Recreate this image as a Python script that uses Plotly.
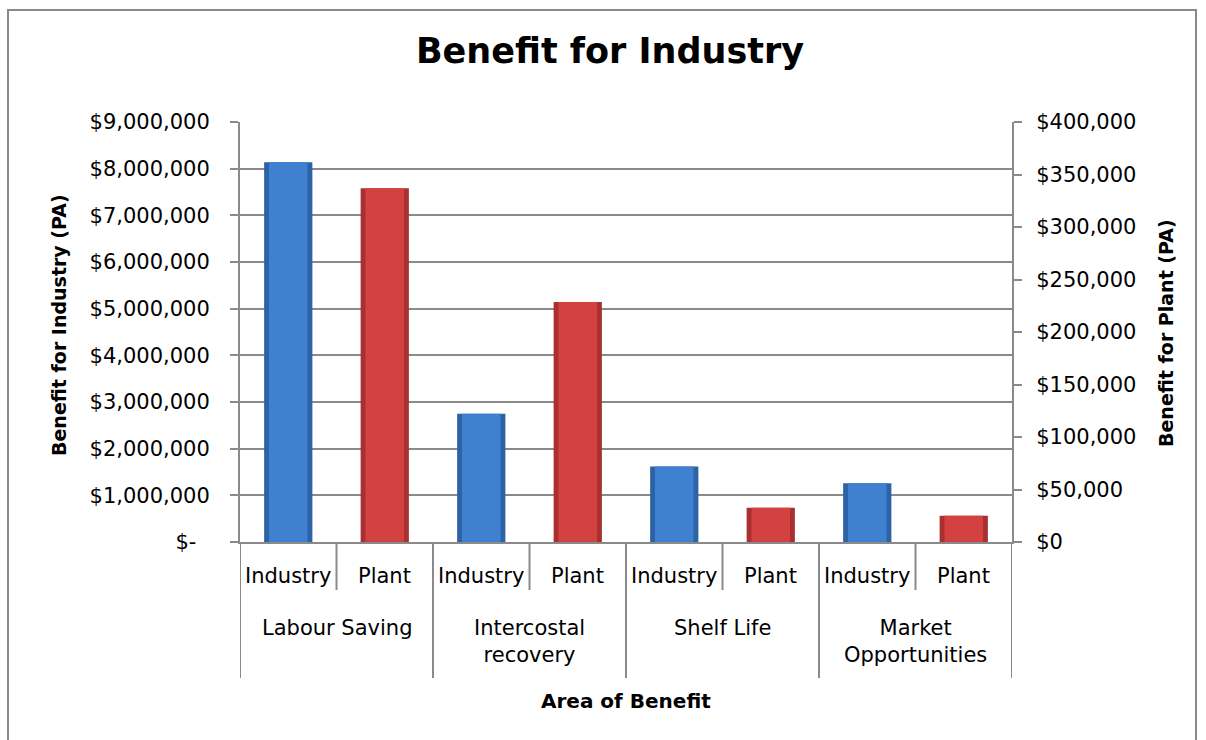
import plotly.graph_objects as go

# ---- data ----
areas = ["Labour Saving", "Intercostal recovery", "Shelf Life", "Market Opportunities"]
area_labels = ["Labour Saving", "Intercostal<br>recovery", "Shelf Life", "Market<br>Opportunities"]
sub_labels = ["Industry", "Plant"]
industry_values = [8140000, 2750000, 1620000, 1260000]   # left axis
plant_values = [337000, 228500, 32600, 25000]            # right axis

left_tickvals = [0, 1000000, 2000000, 3000000, 4000000, 5000000, 6000000, 7000000, 8000000, 9000000]
left_ticktext = ["$-\u00a0\u00a0", "$1,000,000", "$2,000,000", "$3,000,000", "$4,000,000",
                 "$5,000,000", "$6,000,000", "$7,000,000", "$8,000,000", "$9,000,000"]
right_tickvals = [0, 50000, 100000, 150000, 200000, 250000, 300000, 350000, 400000]
right_ticktext = ["$0", "$50,000", "$100,000", "$150,000", "$200,000", "$250,000",
                  "$300,000", "$350,000", "$400,000"]

# ---- categories ----
cats = []
for a in areas:
    for s in sub_labels:
        cats.append(a + " | " + s)
ind_x = [a + " | Industry" for a in areas]
pla_x = [a + " | Plant" for a in areas]

FONT = "DejaVu Sans"
GRAY = "#8a8a8a"
W, H = 1206, 740
L, R, T, B = 240, 194, 122, 198
PH = H - T - B

def py(p):
    return (H - B - p) / PH

def px(p):
    return (p - L) / (W - L - R)

fig = go.Figure()
# outer (edge) bars and inner (face) bars to imitate the bevelled look
fig.add_trace(go.Bar(x=ind_x, y=industry_values, name="Industry", width=0.5,
                     marker=dict(color="#2d62a6", line=dict(width=0)), yaxis="y"))
fig.add_trace(go.Bar(x=ind_x, y=industry_values, name="Industry", width=0.40,
                     marker=dict(color="#3f80d0", line=dict(width=0)), yaxis="y", hoverinfo="skip"))
fig.add_trace(go.Bar(x=pla_x, y=plant_values, name="Plant", width=0.5,
                     marker=dict(color="#a83030", line=dict(width=0)), yaxis="y2"))
fig.add_trace(go.Bar(x=pla_x, y=plant_values, name="Plant", width=0.40,
                     marker=dict(color="#d44141", line=dict(width=0)), yaxis="y2", hoverinfo="skip"))

shapes = []
# long dividers at group boundaries
for g in range(len(areas) + 1):
    shapes.append(dict(type="line", xref="x", yref="paper", x0=2 * g - 0.5, x1=2 * g - 0.5,
                       y0=0, y1=py(678), line=dict(color=GRAY, width=2)))
# short dividers between sub-categories
for g in range(len(areas)):
    shapes.append(dict(type="line", xref="x", yref="paper", x0=2 * g + 0.5, x1=2 * g + 0.5,
                       y0=0, y1=py(590), line=dict(color=GRAY, width=2)))
# chart border
shapes.append(dict(type="rect", xref="paper", yref="paper", x0=px(8), x1=px(1196),
                   y0=py(760), y1=py(10), line=dict(color=GRAY, width=2), layer="below"))

annotations = []
for i, c in enumerate(cats):
    annotations.append(dict(x=c, xref="x", y=py(576), yref="paper", text=sub_labels[i % 2],
                            showarrow=False, yanchor="middle", xanchor="center",
                            font=dict(family=FONT, size=21, color="black")))
for g, lab in enumerate(area_labels):
    annotations.append(dict(x=2 * g + 0.5, xref="x", y=py(614), yref="paper", text=lab,
                            showarrow=False, yanchor="top", xanchor="center",
                            font=dict(family=FONT, size=21, color="black")))
annotations.append(dict(x=px(626), xref="paper", y=py(701), yref="paper", text="<b>Area of Benefit</b>",
                        showarrow=False, yanchor="middle", xanchor="center",
                        font=dict(family=FONT, size=20, color="black")))
annotations.append(dict(x=px(59), xref="paper", y=py(325), yref="paper", text="<b>Benefit for Industry (PA)</b>",
                        showarrow=False, textangle=-90, yanchor="middle", xanchor="center",
                        font=dict(family=FONT, size=19, color="black")))
annotations.append(dict(x=px(1166), xref="paper", y=py(333), yref="paper", text="<b>Benefit for Plant (PA)</b>",
                        showarrow=False, textangle=-90, yanchor="middle", xanchor="center",
                        font=dict(family=FONT, size=19, color="black")))

fig.update_layout(
    width=W, height=H,
    margin=dict(l=L, r=R, t=T, b=B, autoexpand=False),
    paper_bgcolor="white", plot_bgcolor="white",
    showlegend=False,
    barmode="overlay",
    title=dict(text="<b>Benefit for Industry</b>", x=610 / W, xanchor="center",
               y=1 - 51 / H, yanchor="middle", xref="container", yref="container",
               font=dict(family=FONT, size=35, color="black")),
    xaxis=dict(type="category", categoryorder="array", categoryarray=cats,
               range=[-0.5, len(cats) - 0.5], showticklabels=False, ticks="",
               showline=True, linecolor=GRAY, linewidth=2, showgrid=False, zeroline=False),
    yaxis=dict(range=[0, 9000000], tickvals=left_tickvals, ticktext=left_ticktext,
               ticks="outside", ticklen=8, tickcolor=GRAY, tickwidth=2, ticklabelstandoff=16,
               showline=True, linecolor=GRAY, linewidth=2,
               showgrid=True, gridcolor=GRAY, gridwidth=2, zeroline=False,
               tickfont=dict(family=FONT, size=21, color="black")),
    yaxis2=dict(range=[0, 400000], tickvals=right_tickvals, ticktext=right_ticktext,
                overlaying="y", side="right",
                ticks="outside", ticklen=8, tickcolor=GRAY, tickwidth=2, ticklabelstandoff=10,
                showline=True, linecolor=GRAY, linewidth=2,
                showgrid=False, zeroline=False,
                tickfont=dict(family=FONT, size=21, color="black")),
    shapes=shapes,
    annotations=annotations,
    font=dict(family=FONT),
)

fig.write_html("out.html")
